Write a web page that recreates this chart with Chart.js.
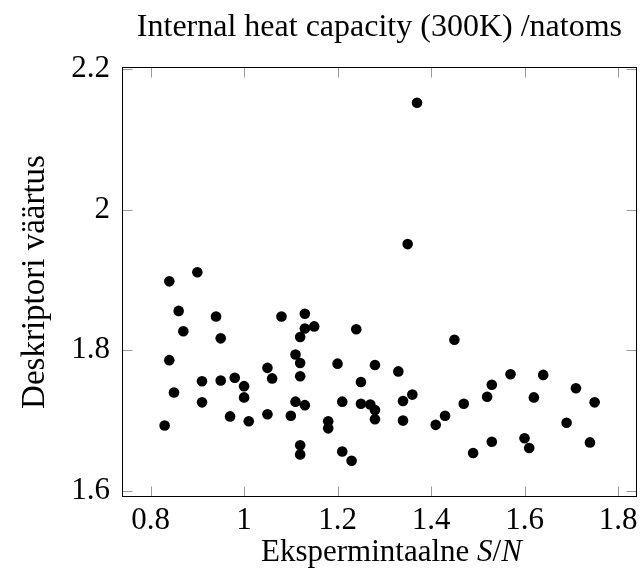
<!DOCTYPE html>
<html>
<head>
<meta charset="utf-8">
<script src="https://cdn.jsdelivr.net/npm/chart.js@4.4.1/dist/chart.umd.min.js"></script>
<style>
  html, body { margin: 0; padding: 0; background: #ffffff; }
  #wrap { width: 643px; height: 583px; }
</style>
</head>
<body>
<div id="wrap"><canvas id="c" width="643" height="583"></canvas></div>
<script>
// ---- data ----
const xValues = [0.84, 0.90, 0.86, 0.94, 0.87, 0.95, 1.08, 0.84, 0.91, 0.95,
                 0.98, 1.00, 1.05, 1.06, 0.85, 0.91, 1.00, 0.83, 0.97, 1.01,
                 1.05, 1.10, 1.11, 1.13, 1.12, 1.12, 1.13, 1.13, 1.15, 1.12,
                 1.11, 1.12, 1.12, 1.24, 1.20, 1.28, 1.33, 1.25, 1.18, 1.18,
                 1.21, 1.25, 1.27, 1.28, 1.28, 1.34, 1.36, 1.34, 1.41, 1.43,
                 1.47, 1.21, 1.23, 1.45, 1.37, 1.35, 1.57, 1.64, 1.53, 1.52,
                 1.62, 1.71, 1.75, 1.69, 1.53, 1.49, 1.60, 1.61, 1.74];
const yValues = [1.898, 1.911, 1.856, 1.848, 1.827, 1.817, 1.848, 1.786, 1.756, 1.757,
                 1.761, 1.749, 1.775, 1.760, 1.740, 1.726, 1.733, 1.693, 1.706, 1.699,
                 1.709, 1.707, 1.727, 1.722, 1.665, 1.652, 1.852, 1.831, 1.834, 1.819,
                 1.794, 1.782, 1.763, 1.830, 1.781, 1.779, 1.770, 1.755, 1.699, 1.689,
                 1.727, 1.724, 1.723, 1.715, 1.702, 1.728, 1.737, 1.700, 1.694, 1.707,
                 1.724, 1.656, 1.643, 1.815, 2.152, 1.951, 1.766, 1.765, 1.751, 1.734,
                 1.733, 1.746, 1.726, 1.697, 1.670, 1.654, 1.675, 1.661, 1.669];
const xTickValues = [0.8, 1, 1.2, 1.4, 1.6, 1.8];
const yTickValues = [1.6, 1.8, 2, 2.2];
const chartTitle = 'Internal heat capacity (300K) /natoms';
const yAxisTitle = 'Deskriptori väärtus';
const xAxisTitlePlain = 'Ekspermintaalne ';
const xAxisTitleMath = ['S', '/', 'N'];

const SERIF = '"Liberation Serif", "Times New Roman", serif';
const FS = 31;        // tick labels, x title
const FS_TITLE = 32;  // chart title
const FS_YT = 33;     // y axis title

const points = xValues.map((x, i) => ({ x: x, y: yValues[i] }));

// frame + inward tick marks on all four sides, and the mixed-style x title
const framePlugin = {
  id: 'frame',
  beforeDatasetsDraw(chart) {
    const { ctx, chartArea: a, scales } = chart;
    const L = Math.round(a.left) + 0.5, R = Math.round(a.right) - 0.5;
    const T = Math.round(a.top) + 0.5, B = Math.round(a.bottom) - 0.5;
    const tl = 10;
    ctx.save();
    ctx.strokeStyle = '#9a9a9a';
    ctx.lineWidth = 1;
    ctx.beginPath();
    xTickValues.forEach(v => {
      const px = Math.round(scales.x.getPixelForValue(v)) + 0.5;
      ctx.moveTo(px, B); ctx.lineTo(px, B - tl);
      ctx.moveTo(px, T); ctx.lineTo(px, T + tl);
    });
    yTickValues.forEach(v => {
      const py = Math.round(scales.y.getPixelForValue(v)) + 0.5;
      ctx.moveTo(L, py); ctx.lineTo(L + tl, py);
      ctx.moveTo(R, py); ctx.lineTo(R - tl, py);
    });
    ctx.stroke();
    ctx.strokeStyle = '#000000';
    ctx.lineWidth = 1;
    ctx.strokeRect(L, T, R - L, B - T);
    ctx.restore();
  },
  afterDraw(chart) {
    const { ctx, chartArea: a } = chart;
    const normal = FS + 'px ' + SERIF;
    const italic = 'italic ' + FS + 'px ' + SERIF;
    const parts = [
      { t: xAxisTitlePlain, f: normal },
      { t: xAxisTitleMath[0], f: italic },
      { t: xAxisTitleMath[1], f: normal },
      { t: xAxisTitleMath[2], f: italic }
    ];
    ctx.save();
    let total = 0;
    parts.forEach(p => { ctx.font = p.f; p.w = ctx.measureText(p.t).width; total += p.w; });
    let x = (a.left + a.right) / 2 - total / 2 + 12;
    const y = 553;
    ctx.fillStyle = '#000000';
    ctx.textBaseline = 'middle';
    ctx.textAlign = 'left';
    parts.forEach(p => { ctx.font = p.f; ctx.fillText(p.t, x, y); x += p.w; });
    ctx.restore();
  }
};

new Chart(document.getElementById('c'), {
  type: 'scatter',
  data: {
    datasets: [{
      data: points,
      pointRadius: 5.3,
      pointHoverRadius: 5.3,
      pointBackgroundColor: '#000000',
      pointBorderColor: '#000000',
      pointBorderWidth: 0
    }]
  },
  options: {
    responsive: false,
    animation: false,
    devicePixelRatio: 1,
    layout: { padding: { left: 0, right: 4, top: 0, bottom: 0 } },
    plugins: {
      legend: { display: false },
      tooltip: { enabled: false },
      title: {
        display: true,
        fullSize: false,
        text: chartTitle,
        color: '#000000',
        font: { family: SERIF, size: FS_TITLE, weight: 'normal' },
        padding: { top: 28 - FS_TITLE * 0.6, bottom: 67 - (28 - FS_TITLE * 0.6) - FS_TITLE * 1.2 }
      }
    },
    scales: {
      x: {
        type: 'linear',
        min: 0.7388,
        max: 1.8404,
        afterBuildTicks: s => { s.ticks = xTickValues.map(v => ({ value: v })); },
        afterFit: s => { s.height = 86; },
        grid: { display: false, drawTicks: false, tickLength: 0 },
        border: { display: false },
        ticks: {
          color: '#000000',
          font: { family: SERIF, size: FS },
          padding: 521 - 497 - FS * 0.6,
          maxRotation: 0,
          callback: v => String(v)
        }
      },
      y: {
        type: 'linear',
        min: 1.5914,
        max: 2.2028,
        afterBuildTicks: s => { s.ticks = yTickValues.map(v => ({ value: v })); },
        afterFit: s => { s.width = 122; },
        grid: { display: false, drawTicks: false, tickLength: 0 },
        border: { display: false },
        ticks: {
          color: '#000000',
          font: { family: SERIF, size: FS },
          padding: 12,
          callback: v => String(v)
        },
        title: {
          display: true,
          text: yAxisTitle,
          color: '#000000',
          font: { family: SERIF, size: FS_YT },
          padding: { top: 35 - FS_YT * 0.6, bottom: 0 }
        }
      }
    }
  },
  plugins: [framePlugin]
});
</script>
</body>
</html>
